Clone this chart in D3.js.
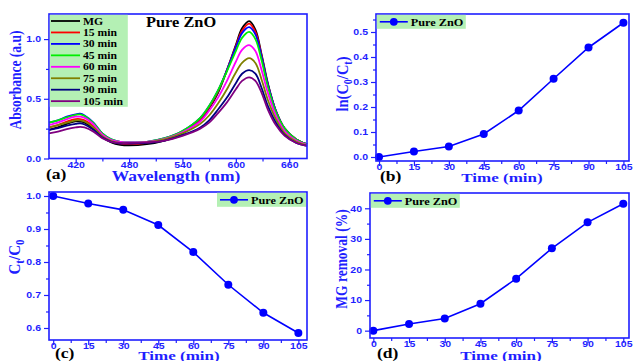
<!DOCTYPE html>
<html lang="en">
<head>
<meta charset="utf-8">
<title>Pure ZnO - MG degradation</title>
<script src="https://cdn.jsdelivr.net/npm/d3@7"></script>
<style>
  body { margin: 0; background: #fff; }
  svg { display: block; }
</style>
</head>
<body>
<script>

var W = 633, H = 361;
var BLUE = "#1f1fff";
var SX = 1.17; // the original picture is a bit stretched sideways
var SERIF = "'Liberation Serif', 'Times New Roman', serif";
var SANS = "'Liberation Sans', Arial, sans-serif";

// (a) absorption spectra
var wavelength = [390, 400, 410, 420, 425, 430, 440, 450, 460, 470, 480, 500, 520, 540, 560, 570, 580, 590, 600, 607, 615, 622, 629, 636, 645, 655, 668, 680];
var seriesNames = ["MG", "15 min", "30 min", "45 min", "60 min", "75 min", "90 min", "105 min"];
var seriesColors = ["#000000", "#ff0000", "#0000ff", "#00ee00", "#ff00ff", "#808000", "#000080", "#800080"];
var absMG  = [0.24, 0.26, 0.29, 0.31, 0.31, 0.30, 0.25, 0.18, 0.135, 0.115, 0.11, 0.12, 0.15, 0.21, 0.32, 0.42, 0.55, 0.74, 0.95, 1.09, 1.15, 1.08, 0.87, 0.63, 0.40, 0.25, 0.16, 0.12];
var abs15  = [0.26, 0.28, 0.31, 0.33, 0.33, 0.32, 0.27, 0.19, 0.145, 0.125, 0.12, 0.13, 0.16, 0.22, 0.33, 0.43, 0.56, 0.74, 0.94, 1.07, 1.13, 1.06, 0.86, 0.62, 0.40, 0.25, 0.16, 0.12];
var abs30  = [0.30, 0.32, 0.35, 0.37, 0.375, 0.36, 0.30, 0.21, 0.16, 0.14, 0.135, 0.14, 0.17, 0.23, 0.34, 0.44, 0.57, 0.74, 0.93, 1.05, 1.10, 1.04, 0.85, 0.62, 0.40, 0.25, 0.16, 0.12];
var abs45  = [0.30, 0.32, 0.345, 0.365, 0.37, 0.355, 0.295, 0.21, 0.16, 0.14, 0.135, 0.14, 0.17, 0.23, 0.34, 0.44, 0.57, 0.73, 0.90, 1.01, 1.06, 1.00, 0.82, 0.60, 0.39, 0.25, 0.16, 0.12];
var abs60  = [0.28, 0.30, 0.33, 0.35, 0.35, 0.34, 0.285, 0.20, 0.155, 0.14, 0.135, 0.14, 0.165, 0.22, 0.31, 0.40, 0.51, 0.65, 0.81, 0.91, 0.95, 0.90, 0.74, 0.55, 0.36, 0.23, 0.15, 0.115];
var abs75  = [0.26, 0.28, 0.30, 0.32, 0.32, 0.31, 0.26, 0.185, 0.145, 0.13, 0.13, 0.135, 0.16, 0.21, 0.29, 0.36, 0.46, 0.58, 0.72, 0.80, 0.84, 0.80, 0.66, 0.49, 0.33, 0.21, 0.14, 0.11];
var abs90  = [0.24, 0.255, 0.275, 0.29, 0.295, 0.285, 0.24, 0.175, 0.14, 0.125, 0.125, 0.13, 0.15, 0.195, 0.26, 0.32, 0.41, 0.51, 0.63, 0.71, 0.74, 0.71, 0.59, 0.44, 0.30, 0.195, 0.13, 0.105];
var abs105 = [0.21, 0.225, 0.245, 0.26, 0.265, 0.26, 0.225, 0.17, 0.14, 0.13, 0.13, 0.135, 0.15, 0.19, 0.25, 0.30, 0.38, 0.47, 0.58, 0.65, 0.68, 0.65, 0.55, 0.41, 0.28, 0.19, 0.13, 0.105];
var absorbance = [absMG, abs15, abs30, abs45, abs60, abs75, abs90, abs105];

// (b)-(d) kinetics
var time = [0, 15, 30, 45, 60, 75, 90, 105];
var lnC0Ct = [0, 0.022, 0.042, 0.092, 0.186, 0.313, 0.438, 0.537];
var ctC0 = [1.0, 0.977, 0.958, 0.912, 0.830, 0.731, 0.646, 0.585];
var removal = [0, 2.2, 4.0, 8.8, 17.0, 26.9, 35.4, 41.5];

var timeTicks = [0, 15, 30, 45, 60, 75, 90, 105];
var timeMinor = [7.5, 22.5, 37.5, 52.5, 67.5, 82.5, 97.5];

var svg = d3.select("body").append("svg")
    .attr("width", W)
    .attr("height", H);

// text helper, stretched sideways like the source
function label(txt, x, y, size, color, anchor, rot, sx) {
    var t = svg.append("text")
        .attr("transform", "translate(" + x + "," + y + ") scale(" + (sx || SX) + ",1)" + (rot ? " rotate(-90)" : ""))
        .attr("font-family", SERIF)
        .attr("font-weight", "bold")
        .attr("font-size", size)
        .attr("fill", color)
        .attr("text-anchor", anchor || "start");
    if (txt) t.text(txt);
    return t;
}

function panel(p) {
    var x = d3.scaleLinear().domain(p.xDomain).range([p.l, p.r]);
    var y = d3.scaleLinear().domain(p.yDomain).range([p.b, p.t]);
    var g = svg.append("g");

    g.append("g").attr("transform", "translate(0," + p.b + ")")
        .call(d3.axisBottom(x).tickValues(p.xMinor).tickSize(3).tickFormat(""));
    g.append("g").attr("transform", "translate(" + p.l + ",0)")
        .call(d3.axisLeft(y).tickValues(p.yMinor).tickSize(3).tickFormat(""));

    var xa = g.append("g").attr("transform", "translate(0," + p.b + ")")
        .call(d3.axisBottom(x).tickValues(p.xTicks).tickSize(5).tickPadding(-2).tickFormat(d3.format("d")));
    var ya = g.append("g").attr("transform", "translate(" + p.l + ",0)")
        .call(d3.axisLeft(y).tickValues(p.yTicks).tickSize(5).tickPadding(3).tickFormat(p.yFormat));

    g.selectAll(".domain").remove();
    g.selectAll(".tick line").attr("stroke", BLUE).attr("stroke-width", 1.2);
    g.selectAll(".tick text")
        .attr("fill", BLUE)
        .attr("font-family", SANS)
        .attr("font-weight", "bold")
        .attr("font-size", 9)
        .attr("transform", "scale(" + SX + ",1)");
    ya.selectAll(".tick text").attr("x", function() { return +d3.select(this).attr("x") / SX; });

    var plot = g.append("g");

    g.append("rect")
        .attr("x", p.l).attr("y", p.t)
        .attr("width", p.r - p.l).attr("height", p.b - p.t)
        .attr("fill", "none")
        .attr("stroke", BLUE)
        .attr("stroke-width", 1.6);

    return { x: x, y: y, plot: plot };
}

function legendBox(x0, y0) {
    svg.append("rect").attr("x", x0).attr("y", y0).attr("width", 89).attr("height", 14).attr("fill", "#b4f0b4");
    svg.append("line").attr("x1", x0 + 3).attr("x2", x0 + 31).attr("y1", y0 + 7).attr("y2", y0 + 7)
        .attr("stroke", "#0000ff").attr("stroke-width", 1.6);
    svg.append("circle").attr("cx", x0 + 17).attr("cy", y0 + 7).attr("r", 3.9).attr("fill", "#0000ff");
    label("Pure ZnO", x0 + 34, y0 + 11, 10.5, "#000");
}

function kinetics(p, values) {
    var line = d3.line()
        .x(function(d, i) { return p.x(time[i]); })
        .y(function(d) { return p.y(d); });
    p.plot.append("path").datum(values)
        .attr("d", line)
        .attr("fill", "none")
        .attr("stroke", "#0000ff")
        .attr("stroke-width", 1.6);
    p.plot.selectAll("circle").data(values).enter().append("circle")
        .attr("cx", function(d, i) { return p.x(time[i]); })
        .attr("cy", function(d) { return p.y(d); })
        .attr("r", 4)
        .attr("fill", "#0000ff");
}

// ---- (a)
var pa = panel({
    l: 49, r: 307, t: 14, b: 158.5,
    xDomain: [390, 680], yDomain: [0, 1.21],
    xTicks: [420, 480, 540, 600, 660], xMinor: [450, 510, 570, 630],
    yTicks: [0, 0.5, 1.0], yMinor: [0.25, 0.75],
    yFormat: d3.format(".1f")
});

var spec = d3.line()
    .x(function(d, i) { return pa.x(wavelength[i]); })
    .y(function(d) { return pa.y(d); })
    .curve(d3.curveCatmullRom.alpha(0.5));

pa.plot.selectAll("path.spec").data(absorbance).enter().append("path")
    .attr("class", "spec")
    .attr("d", spec)
    .attr("fill", "none")
    .attr("stroke", function(d, i) { return seriesColors[i]; })
    .attr("stroke-width", 1.8);

svg.append("rect").attr("x", 49.8).attr("y", 14.8).attr("width", 78).attr("height", 92).attr("fill", "#b4f0b4");
seriesNames.forEach(function(name, i) {
    var yy = 21 + i * 11.45;
    svg.append("line").attr("x1", 51).attr("x2", 80).attr("y1", yy).attr("y2", yy)
        .attr("stroke", seriesColors[i]).attr("stroke-width", 1.8);
    label(name, 83, yy + 3.5, 10, "#000");
});
label("Pure ZnO", 146, 27, 14, "#000");
label("Absorbance (a.u)", 21, 80, 13.5, BLUE, "middle", true);
label("Wavelength (nm)", 176, 181, 14, BLUE, "middle", false, 1.25);
label("(a)", 46, 179, 15, "#000");

// ---- (b)
var pb = panel({
    l: 376, r: 629, t: 14, b: 161,
    xDomain: [-1.3, 107.4], yDomain: [-0.016, 0.572],
    xTicks: timeTicks, xMinor: timeMinor,
    yTicks: [0, 0.1, 0.2, 0.3, 0.4, 0.5], yMinor: [0.05, 0.15, 0.25, 0.35, 0.45, 0.55],
    yFormat: d3.format(".1f")
});
kinetics(pb, lnC0Ct);
legendBox(376.8, 14.8);
var lb = label(null, 348, 84, 14.5, BLUE, "middle", true);
lb.append("tspan").text("ln(C");
lb.append("tspan").attr("font-size", 10).attr("dy", 3).text("0");
lb.append("tspan").attr("dy", -3).text("/C");
lb.append("tspan").attr("font-size", 10).attr("dy", 3).text("t");
lb.append("tspan").attr("dy", -3).text(")");
label("Time (min)", 502, 182, 13.5, BLUE, "middle", false, 1.26);
label("(b)", 380, 181, 15, "#000");

// ---- (c)
var pc = panel({
    l: 49, r: 307, t: 192, b: 340,
    xDomain: [-1.8, 108.7], yDomain: [0.5636, 1.0121],
    xTicks: timeTicks, xMinor: timeMinor,
    yTicks: [0.6, 0.7, 0.8, 0.9, 1.0], yMinor: [0.65, 0.75, 0.85, 0.95],
    yFormat: d3.format(".1f")
});
kinetics(pc, ctC0);
legendBox(217, 192.8);
var lc = label(null, 20, 257, 15, BLUE, "middle", true);
lc.append("tspan").text("C");
lc.append("tspan").attr("font-size", 11).attr("dy", 3).text("t");
lc.append("tspan").attr("dy", -3).text("/C");
lc.append("tspan").attr("font-size", 11).attr("dy", 3).text("0");
label("Time (min)", 179, 360, 13.5, BLUE, "middle", false, 1.26);
label("(c)", 55, 358, 15, "#000");

// ---- (d)
var pd = panel({
    l: 370, r: 629, t: 193, b: 338,
    xDomain: [-1.4, 107.4], yDomain: [-2.4, 45],
    xTicks: timeTicks, xMinor: timeMinor,
    yTicks: [0, 10, 20, 30, 40], yMinor: [5, 15, 25, 35],
    yFormat: d3.format("d")
});
kinetics(pd, removal);
legendBox(370.8, 193.8);
label("MG removal (%)", 347, 259, 13.5, BLUE, "middle", true);
label("Time (min)", 501, 360, 13.5, BLUE, "middle", false, 1.26);
label("(d)", 377, 358, 15, "#000");

</script>
</body>
</html>
